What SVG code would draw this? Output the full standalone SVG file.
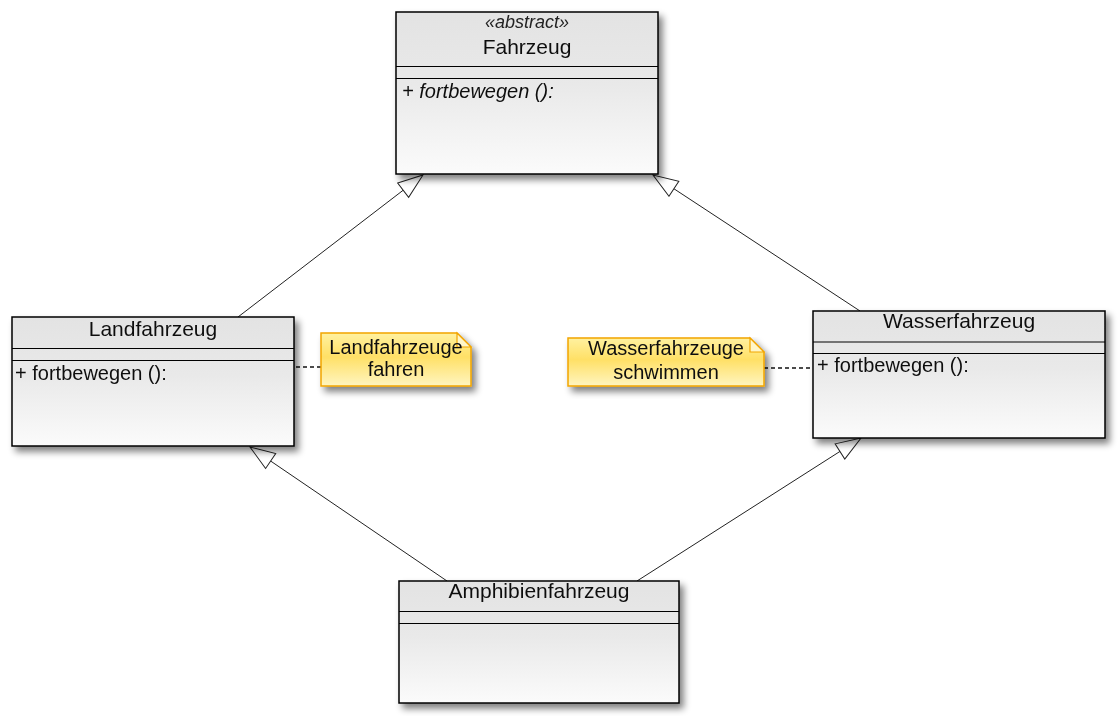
<svg xmlns="http://www.w3.org/2000/svg" width="1120" height="716" viewBox="0 0 1120 716">
  <defs>
    <linearGradient id="boxGrad" x1="0" y1="0" x2="0" y2="1">
      <stop offset="0" stop-color="#e3e3e3"/>
      <stop offset="0.45" stop-color="#e9e9e9"/>
      <stop offset="1" stop-color="#fbfbfb"/>
    </linearGradient>
    <linearGradient id="noteGrad" x1="0" y1="0" x2="0" y2="1">
      <stop offset="0" stop-color="#fff1a0"/>
      <stop offset="0.45" stop-color="#ffe066"/>
      <stop offset="1" stop-color="#fff5c0"/>
    </linearGradient>
    <filter id="shadow" x="-10%" y="-10%" width="125%" height="135%">
      <feGaussianBlur in="SourceAlpha" stdDeviation="3.5"/>
      <feOffset dx="4" dy="5" result="b"/>
      <feComponentTransfer><feFuncA type="linear" slope="0.5"/></feComponentTransfer>
      <feMerge><feMergeNode/><feMergeNode in="SourceGraphic"/></feMerge>
    </filter>
    <marker id="gen" markerUnits="userSpaceOnUse" viewBox="0 0 27 20" refX="26" refY="10" markerWidth="27" markerHeight="20" orient="auto">
      <path d="M1,1 L26,10 L1,19 Z" fill="#ffffff" stroke="#222" stroke-width="1"/>
    </marker>
  </defs>
  <style>
    .box { fill: url(#boxGrad); stroke: #000; stroke-width: 1.5; }
    .div { stroke: #000; stroke-width: 1.2; }
    .title { font-family: "Liberation Sans", Arial, sans-serif; font-size: 21px; fill: #111; text-anchor: middle; }
    .stereo { font-family: "Liberation Sans", Arial, sans-serif; font-size: 18px; font-style: italic; fill: #222; text-anchor: middle; }
    .op { font-family: "Liberation Sans", Arial, sans-serif; font-size: 20px; fill: #111; }
    .opi { font-style: italic; }
    .note { fill: url(#noteGrad); stroke: #f2a500; stroke-width: 1.5; }
    .fold { fill: #fff6c8; stroke: #f2a500; stroke-width: 1.2; }
    .ntext { font-family: "Liberation Sans", Arial, sans-serif; font-size: 20px; fill: #111; text-anchor: middle; }
    .conn { stroke: #222; stroke-width: 1; fill: none; }
    .dash { stroke: #111; stroke-width: 1.3; stroke-dasharray: 4 3; fill: none; }
  </style>

  <g id="connectors">
    <line class="conn" x1="238" y1="317" x2="423" y2="175" marker-end="url(#gen)"/>
    <line class="conn" x1="860" y1="311" x2="653" y2="175" marker-end="url(#gen)"/>
    <line class="conn" x1="447" y1="581" x2="250" y2="447" marker-end="url(#gen)"/>
    <line class="conn" x1="637" y1="581" x2="861" y2="438" marker-end="url(#gen)"/>
    <line class="dash" x1="296" y1="367" x2="321" y2="367"/>
    <line class="dash" x1="764" y1="368" x2="813" y2="368"/>
  </g>

  <g id="Fahrzeug" filter="url(#shadow)">
    <rect class="box" x="396" y="12" width="262" height="162"/>
    <line class="div" x1="396" y1="66.5" x2="658" y2="66.5"/>
    <line class="div" x1="396" y1="78.5" x2="658" y2="78.5"/>
    <text class="stereo" x="527" y="28">«abstract»</text>
    <text class="title" x="527" y="54">Fahrzeug</text>
    <text class="op opi" x="402" y="98">+ fortbewegen ():</text>
  </g>

  <g id="Landfahrzeug" filter="url(#shadow)">
    <rect class="box" x="12" y="317" width="282" height="129"/>
    <line class="div" x1="12" y1="348.5" x2="294" y2="348.5"/>
    <line class="div" x1="12" y1="360.5" x2="294" y2="360.5"/>
    <text class="title" x="153" y="336">Landfahrzeug</text>
    <text class="op" x="15" y="380">+ fortbewegen ():</text>
  </g>

  <g id="Wasserfahrzeug" filter="url(#shadow)">
    <rect class="box" x="813" y="311" width="292" height="127"/>
    <line class="div" x1="813" y1="342" x2="1105" y2="342"/>
    <line class="div" x1="813" y1="353.5" x2="1105" y2="353.5"/>
    <text class="title" x="959" y="328">Wasserfahrzeug</text>
    <text class="op" x="817" y="372">+ fortbewegen ():</text>
  </g>

  <g id="Amphibienfahrzeug" filter="url(#shadow)">
    <rect class="box" x="399" y="581" width="280" height="122"/>
    <line class="div" x1="399" y1="611.5" x2="679" y2="611.5"/>
    <line class="div" x1="399" y1="623.5" x2="679" y2="623.5"/>
    <text class="title" x="539" y="598">Amphibienfahrzeug</text>
  </g>

  <g id="NoteLand" filter="url(#shadow)">
    <path class="note" d="M321,333 H457 L471,347 V386 H321 Z"/>
    <path class="fold" d="M457,333 V347 H471 Z"/>
    <text class="ntext" x="396" y="354">Landfahrzeuge</text>
    <text class="ntext" x="396" y="376">fahren</text>
  </g>

  <g id="NoteWasser" filter="url(#shadow)">
    <path class="note" d="M568,338 H750 L764,352 V386 H568 Z"/>
    <path class="fold" d="M750,338 V352 H764 Z"/>
    <text class="ntext" x="666" y="355">Wasserfahrzeuge</text>
    <text class="ntext" x="666" y="379">schwimmen</text>
  </g>
</svg>
